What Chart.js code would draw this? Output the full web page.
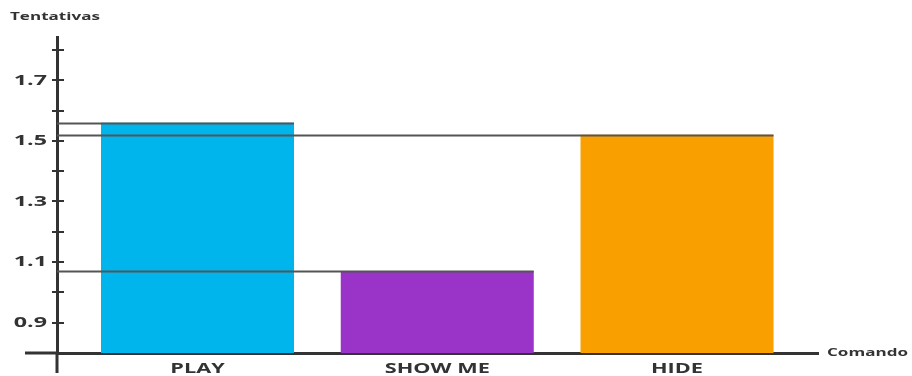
<!DOCTYPE html>
<html>
<head>
<meta charset="utf-8">
<script src="https://cdn.jsdelivr.net/npm/chart.js@4/dist/chart.umd.min.js"></script>
<style>
  html, body { margin: 0; padding: 0; background: #ffffff; }
  #wrap { width: 912px; height: 376px; position: relative; }
</style>
</head>
<body>
<div id="wrap"><canvas id="c" width="912" height="376"></canvas></div>
<script>
// ---- data ----
const categories = ['PLAY', 'SHOW ME', 'HIDE'];
const attempts = [1.56, 1.07, 1.52];
const barColors = ['#00B5EC', '#9A33C8', '#F9A000'];
const yTickValues = [0.9, 1.0, 1.1, 1.2, 1.3, 1.4, 1.5, 1.6, 1.7, 1.8];
const yTickLabels = ['0.9', '', '1.1', '', '1.3', '', '1.5', '', '1.7', ''];
const yAxisTitle = 'Tentativas';
const xAxisTitle = 'Comando';

const textColor = '#333333';
const axisColor = '#333333';
const fontFamily = '"Open Sans", "DejaVu Sans", sans-serif';
const textStretch = 1.55; // the reference lettering is horizontally wide

const canvas = document.getElementById('c');
const ctx2d = canvas.getContext('2d');
// Wide lettering: stretch text horizontally around its anchor point.
(function () {
  const proto = CanvasRenderingContext2D.prototype;
  ctx2d.fillText = function (text, x, y, maxWidth) {
    this.save();
    this.translate(x, y);
    this.scale(textStretch, 1);
    if (maxWidth === undefined) proto.fillText.call(this, text, 0, 0);
    else proto.fillText.call(this, text, 0, 0, maxWidth / textStretch);
    this.restore();
  };
  ctx2d.measureText = function (text) {
    const m = proto.measureText.call(this, text);
    return {
      width: m.width * textStretch,
      actualBoundingBoxLeft: m.actualBoundingBoxLeft * textStretch,
      actualBoundingBoxRight: m.actualBoundingBoxRight * textStretch,
      actualBoundingBoxAscent: m.actualBoundingBoxAscent,
      actualBoundingBoxDescent: m.actualBoundingBoxDescent,
      fontBoundingBoxAscent: m.fontBoundingBoxAscent,
      fontBoundingBoxDescent: m.fontBoundingBoxDescent
    };
  };
})();

const points = categories.map((c, i) => ({ x: i + 1, y: attempts[i] }));

const extrasPlugin = {
  id: 'extras',
  afterDatasetsDraw(chart) {
    const { ctx, chartArea } = chart;
    const meta = chart.getDatasetMeta(0);
    const yScale = chart.scales.y;
    ctx.save();
    ctx.strokeStyle = '#555555';
    ctx.lineWidth = 2;
    meta.data.forEach((bar, i) => {
      const y = Math.round(yScale.getPixelForValue(attempts[i])) + 0.5;
      ctx.beginPath();
      ctx.moveTo(chartArea.left, y);
      ctx.lineTo(bar.x + bar.width / 2, y);
      ctx.stroke();
    });
    ctx.restore();
  },
  afterDraw(chart) {
    const { ctx, chartArea } = chart;
    ctx.save();
    ctx.strokeStyle = axisColor;
    ctx.lineWidth = 3;
    // x axis extension to the left of the y axis
    ctx.beginPath();
    ctx.moveTo(25, chartArea.bottom);
    ctx.lineTo(chartArea.left, chartArea.bottom);
    ctx.stroke();
    // y axis extension below the x axis
    ctx.beginPath();
    ctx.moveTo(chartArea.left, chartArea.bottom);
    ctx.lineTo(chartArea.left, 373);
    ctx.stroke();
    // x axis title, at the right end of the x axis
    ctx.fillStyle = textColor;
    ctx.font = 'bold 11px ' + fontFamily;
    ctx.textBaseline = 'middle';
    ctx.textAlign = 'left';
    ctx.fillText(xAxisTitle, chartArea.right + 9, chartArea.bottom);
    ctx.restore();
  }
};

new Chart(canvas, {
  type: 'bar',
  data: {
    datasets: [{
      data: points,
      backgroundColor: barColors,
      borderWidth: 0,
      categoryPercentage: 1.0,
      barPercentage: 0.805
    }]
  },
  options: {
    responsive: false,
    animation: false,
    layout: { padding: { left: 10, right: 94, top: 0, bottom: 0 } },
    plugins: {
      legend: { display: false },
      tooltip: { enabled: false },
      title: {
        display: true,
        text: yAxisTitle,
        align: 'start',
        color: textColor,
        font: { family: fontFamily, size: 11, weight: 'bold', lineHeight: 1.2 },
        padding: { top: 10, bottom: 14 }
      }
    },
    scales: {
      x: {
        type: 'linear',
        offset: false,
        bounds: 'data',
        min: 0.414,
        max: 3.588,
        afterBuildTicks: (s) => { s.ticks = categories.map((c, i) => ({ value: i + 1 })); },
        afterFit: (s) => { s.height = 23; },
        grid: { display: false, drawTicks: false, offset: false },
        border: { display: true, color: axisColor, width: 3 },
        ticks: {
          autoSkip: false,
          maxRotation: 0,
          padding: 8,
          color: textColor,
          font: { family: fontFamily, size: 14, weight: 'bold' },
          callback: (v) => categories[Math.round(v) - 1] || ''
        }
      },
      y: {
        min: 0.8,
        max: 1.842,
        afterBuildTicks: (s) => { s.ticks = yTickValues.map(v => ({ value: v })); },
        afterFit: (s) => { s.width = 47; },
        grid: {
          display: true,
          drawOnChartArea: true,
          drawTicks: true,
          tickLength: 5,
          color: axisColor,
          lineWidth: 2,
          tickColor: axisColor,
          tickWidth: 2
        },
        border: { display: true, color: axisColor, width: 3, dash: [5, 3000] },
        ticks: {
          autoSkip: false,
          padding: 5,
          color: textColor,
          font: { family: fontFamily, size: 15, weight: 'bold' },
          callback: (v) => {
            const idx = yTickValues.findIndex(t => Math.abs(t - v) < 1e-6);
            return idx >= 0 ? yTickLabels[idx] : '';
          }
        }
      }
    }
  },
  plugins: [extrasPlugin]
});
</script>
</body>
</html>
